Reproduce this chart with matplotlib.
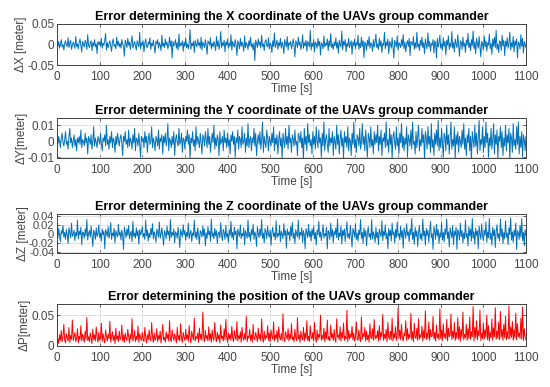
import numpy as np
import matplotlib
matplotlib.use("Agg")
import matplotlib.pyplot as plt

plt.rcParams['font.family'] = ['Liberation Sans', 'DejaVu Sans']

t_max = 1100

# Read-off error values, in the units given by the *_unit factors below (metres per unit)
x_unit = 1.5e-3
y_unit = 1.0e-3
z_unit = 1.3e-3
p_unit = 1.0e-3

dx_vals = [3,-2,5,-6,1,8,-4,0,-9,2,6,-1,-3,11,-5,2,7,-8,-2,4,0,-6,13,-3,1,
-7,4,9,-2,-12,5,1,-4,7,3,-8,16,-1,-5,2,6,-10,3,-2,8,-4,1,-15,5,0,
4,-3,10,-6,2,-1,7,18,-9,3,-5,1,6,-2,-11,4,9,-3,0,-7,12,-1,5,-4,2,
-6,8,1,-3,-19,7,2,-5,10,-1,4,-8,3,14,-6,0,5,-2,-9,6,1,-4,20,-7,3,
-1,6,-12,2,9,-3,-5,4,0,11,-8,2,-2,7,-4,-14,5,1,8,-6,3,-1,-10,15,-3,
2,-5,9,-1,4,-7,0,12,-3,6,-22,5,-2,1,8,-6,3,-9,17,-4,2,-1,6,-11,4,
-3,10,-5,1,-7,3,24,-8,2,-2,5,-13,7,0,-4,9,-1,3,-6,12,-9,4,1,-5,8,
-2,-16,6,3,-1,11,-7,2,-4,5,0,-10,13,-3,6,-8,1,21,-5,3,-2,7,-12,4,-1,
9,-6,2,-3,16,-9,5,0,-4,8,-1,-18,6,2,-7,10,-3,4,-1,-11,14,-5,3,0,-8,
6,-2,12,-4,1,-9,3,-26,7,2,-5,9,-1,4,-6,15,-3,1,-10,5,8,-2,-4,11,-7,
2,0,-13,6,-3,19,-5,1,7,-8,3,-2,10,-6,4,-1,-15,8,2,-4,13,-9,3,0,5,
-7,1,9,-3,-20,6,2,-5,12,-1,4,-8,0,16,-6,3,-2,7,-11,5,1,-4,23,-9,2,
-3,8,-12,4,1,-6,10,-2,5,-17,3,0,-7,14,-4,2,-1,9,-10,6,-3,18,-5,1,-8,
4,-2,11,-6,3,-14,7,0,-4,22,-9,5,-1,8,-12,2,-3,10,-5,1,6,-16,4,-2,9,
-7,3,-1,15,-8,2,-5,12,-3,6,-21,4,1,-9,7,-2,13,-6,3,0,-11,8,-4,2,17,
-5,1,-8,10,-3,6,-13,2,-1,20,-7,4,-2,9,-15,5,1,-6,11,-3,-22,7,2,-4,14,
-9,3,0,-5,8,-2,16,-7,4,-12,1,6,-3,10,-18,5,2,-1,13,-8,3,-6,20,-4,1,
-10,7,-2,12,-5,3,-15,9,0,-7,19,-3,5,-11,2,-1,8,-14,6,3,-22,10,-4,2,15,
-6,1,-9,11,-3,5,-17,7,-1,14,-8,2,-4,21,-6,3,-12,9,1,-5,16,-2,-19,6,4,
-8,12,-3,2,-13,7,-1,18,-5,3,-10,8,-2,22,-7,4,-15,10,1,-6,13,-3,-20,5,2,
-9,14,-4,6,-11,3,-1,17,-7,2,-16,9,-3,12,-5,23,-8,1,-13,6,4,-10,15,-2,7,
-18,5,-3,11,-6,2,20,-9,3,-4,13,-12,6,-1,9,-22,4,2,-7,16,-3,10,-14,5,0,
-5]

dy_vals = [1,-2,3,0,-4,2,5,-1,-3,1,6,-2,0,-5,3,8,-1,2,-4,0,4,-3,1,-6,2,
-1,3,-2,7,-4,1,0,-3,5,-1,2,-8,3,1,-2,4,-5,0,9,-3,2,-1,-4,3,1,
-2,5,-1,-6,2,0,4,-3,10,-2,1,-5,3,-1,6,-4,2,0,-7,3,-2,5,1,-3,2,
4,-1,-9,3,0,6,-2,1,-4,7,-3,2,0,-5,4,-1,8,-6,2,1,-3,5,-2,-10,3,
0,2,-4,6,-1,3,-7,1,5,-2,0,9,-4,2,-1,-6,3,1,-3,7,-5,2,0,4,-8,
3,-1,5,-3,1,11,-6,2,0,-4,3,-2,6,-9,1,4,-1,-3,8,-2,0,5,-7,2,1,
-5,3,0,7,-2,4,-11,2,-1,6,-3,1,-6,9,-2,3,0,-4,5,-1,-8,4,2,-3,6,
1,-4,8,-2,3,-7,0,5,-1,10,-5,2,-3,4,1,-9,6,-2,0,3,-6,7,-1,2,-4,
5,-3,1,-8,4,0,6,-2,3,-10,2,-1,7,-5,3,1,-4,9,-2,0,5,-7,2,-3,11,
-4,1,3,-6,2,-1,8,-3,5,-9,0,4,-2,6,-5,1,12,-7,3,-1,-4,7,2,-6,3,
0,-3,5,-1,9,-6,2,-2,4,-8,1,6,-3,2,-11,5,0,-4,8,-2,3,-5,10,-1,2,
-7,4,1,-3,7,-2,0,-9,5,3,-1,6,-4,2,-12,8,-2,3,-6,11,-1,4,-3,1,-8,
6,-2,3,-5,9,0,-4,7,-1,2,-10,5,-3,12,-6,1,4,-2,-7,8,-3,2,-1,6,-9,
3,0,-5,10,-2,4,-8,1,7,-3,2,-11,6,-1,3,-4,9,-6,2,0,-9,5,-2,12,-4,
1,-7,4,2,-3,8,-5,0,11,-2,3,-6,7,-1,-10,5,2,-4,9,-3,1,-8,6,-2,4,
-1,10,-6,3,-2,7,-9,2,0,5,-4,12,-3,1,-7,8,-2,4,-11,3,6,-1,-5,9,-3,
2,-8,5,-1,11,-4,3,-6,2,-2,9,-10,4,1,-3,7,-5,12,-2,0,-8,6,-4,3,10,
-6,1,-3,8,-1,4,-12,6,2,-5,9,-2,3,-7,11,-4,1,-9,5,-2,7,-3,13,-6,2,
-4,8,-1,-10,5,3,-6,10,-2,4,-8,2,12,-5,1,-3,9,-11,4,-2,6,-7,3,0,-4,
7,-2,11,-5,2,-9,4,-1,8,-6,3,-12,6,1,-4,10,-3,5,-8,2,13,-6,1,-2,9,
-7,3,-4,12,-1,5,-10,2,-3,8,-5,1,11,-8,4,-2,7,-11,3,0,9,-4,6,-9,2,
-3,10,-6,4,-1,8,-12,5,2,-7,11,-3,1,-5,9,-2,12,-8,3,-4,6,-10,4,1,-6,
3]

dz_vals = [4,-7,10,-2,-13,6,1,15,-5,3,-9,8,-1,-16,11,2,-6,19,-4,0,7,-11,3,-3,24,
-8,5,-1,12,-18,4,2,-7,9,-3,25,-10,1,6,-5,14,-2,-21,7,3,-9,11,-4,0,16,
-6,2,-12,9,-1,5,-25,8,3,-4,13,-7,1,20,-9,2,-3,10,-15,6,0,-5,17,-2,4,
-10,7,-1,-26,12,3,-6,9,-2,15,-8,1,5,-13,22,-4,2,-7,11,-3,6,-17,8,-1,3,
13,-5,1,-9,24,-3,7,-12,2,-6,10,-1,18,-8,4,-2,-14,9,3,-5,21,-7,0,11,-4,
-19,6,2,-8,14,-1,5,-11,25,-6,3,-2,9,-15,4,1,-7,12,-3,-23,8,2,-5,16,-1,
6,-10,3,-4,19,-8,1,7,-13,2,-2,24,-6,4,-9,11,-1,-17,6,3,-5,14,-3,9,-20,
2,-7,13,-1,5,-12,26,-4,2,-8,10,-3,6,-16,1,4,-6,20,-2,-11,8,3,-9,15,-5,
1,-14,7,-2,22,-6,3,-10,12,-1,5,-25,9,2,-4,16,-8,1,-3,11,-18,6,0,-7,24,
-5,3,-12,8,-1,17,-9,4,-2,-21,13,1,-6,9,-3,25,-7,2,-15,10,4,-8,14,-1,-5,
7,-19,3,12,-4,2,-10,23,-6,1,-3,15,-13,5,0,-8,18,-2,6,-24,9,-1,4,-11,13,
-3,20,-7,2,-16,8,1,-5,24,-9,3,-2,11,-14,6,-1,-25,10,2,-6,17,-4,5,-12,9,
-2,14,-8,3,-19,7,-1,22,-5,4,-11,2,16,-7,1,-3,12,-25,6,3,-9,19,-4,8,-15,
5,-1,11,-6,26,-10,2,-4,14,-17,7,-2,9,-13,3,21,-6,1,-8,15,-3,-22,10,4,-5,
18,-9,2,-12,7,-1,25,-7,3,-16,11,-4,6,-20,2,13,-5,1,-10,25,-8,4,-2,-14,12,
-6,3,-18,9,1,-4,23,-11,5,-2,16,-8,2,-25,10,-3,7,-12,19,-1,4,-15,8,-6,21,
-3,1,-10,14,-5,6,-24,11,2,-7,18,-2,4,-13,9,-1,27,-9,3,-17,12,-4,6,-21,2,
15,-8,1,-11,26,-3,5,-19,10,-2,7,-14,3,22,-6,1,-26,13,4,-9,17,-3,8,-16,2,
-5,20,-10,3,-13,9,-1,26,-7,4,-22,11,2,-6,15,-18,5,-2,12,-26,8,3,-10,19,-4,
6,-15,2,-8,24,-5,1,-20,13,-3,9,-12,27,-7,4,-17,10,-2,6,-25,14,1,-9,18,-3,
-11,7,-2,21,-14,4,-6,27,-9,2,-19,12,-3,8,-23,5,16,-7,1,-12,26,-4,9,-16,3,
-8,23,-5,2,-18,11,-1,28,-10,4,-14,7,-3,19,-26,6,2,-9,15,-5,27,-11,3,-20,8,
-2]

dp_vals = [6,12,4,18,9,25,7,14,35,10,5,20,13,8,30,6,17,11,42,9,15,22,7,12,28,
5,16,10,33,8,19,13,6,24,11,46,9,15,7,21,12,4,27,10,18,8,31,14,6,22,
9,13,37,7,20,11,5,26,15,8,19,12,40,6,14,23,9,17,4,29,11,16,7,24,10,
13,34,8,18,6,21,12,9,27,15,5,19,11,44,8,14,25,7,16,10,32,6,20,13,9,
22,11,7,30,14,5,18,10,26,12,8,38,15,6,21,9,13,28,7,17,11,24,5,16,35,
10,14,6,23,12,19,8,41,11,7,26,15,9,20,13,5,30,10,17,8,36,12,6,22,14,
9,27,11,18,7,33,13,5,24,16,10,45,8,15,12,21,6,29,11,19,9,55,14,7,25,
12,17,8,31,10,20,6,26,13,9,38,15,7,22,11,18,5,34,12,16,8,28,10,43,14,
6,21,11,19,9,32,13,7,25,15,10,40,8,17,12,23,6,30,14,9,20,11,48,7,16,
13,27,9,18,6,35,12,10,22,15,7,29,11,19,8,44,14,6,24,10,17,13,33,9,21,
7,26,15,11,39,8,18,12,25,6,31,14,10,20,9,52,13,7,23,16,11,28,8,19,12,
36,10,15,7,27,13,9,46,11,18,6,24,14,10,30,8,21,12,41,9,16,7,33,15,11,
22,8,38,13,6,26,10,19,14,50,9,17,11,29,7,23,12,42,10,15,8,34,13,20,9,
27,11,6,44,14,18,10,31,8,22,13,37,9,16,12,58,7,25,11,19,14,32,10,21,8,
15,39,12,9,26,13,7,47,11,20,15,30,8,24,10,18,6,36,14,12,28,9,43,11,17,
13,25,8,33,10,22,15,51,9,19,12,27,7,38,14,11,24,10,45,8,20,13,31,9,17,
62,12,26,10,35,14,8,21,16,41,9,28,11,19,13,53,10,23,7,37,15,12,29,9,44,
11,18,14,32,8,25,13,57,10,21,12,39,9,27,15,16,48,11,22,8,34,13,19,10,60,
12,26,9,36,14,20,11,43,8,29,15,17,52,10,24,13,38,9,22,12,46,11,31,8,27,
14,55,10,19,13,35,9,28,12,47,11,23,15,64,8,30,13,41,10,25,16,58,9,21,12,
37,11,26,14,50,10,33,8,22,13,44,9,29,15,62,11,24,12,39,10,56,14,27,9,35,
13,48,10,23,12,65,11,31,14,40,9,26,13,53,10,36,15,21,12,45,11,63,9,28,14,
10]

titles = ["Error determining the X coordinate of the UAVs group commander",
          "Error determining the Y coordinate of the UAVs group commander",
          "Error determining the Z coordinate of the UAVs group commander",
          "Error determining the position of the UAVs group commander"]
ylabels = ["\u0394X [meter]", "\u0394Y[meter]", "\u0394Z [meter]", "\u0394P[meter]"]
yticks = [[-0.05, 0, 0.05], [-0.01, 0, 0.01],
          [-0.04, -0.02, 0, 0.02, 0.04], [0, 0.05]]
yticklabels = [["-0.05", "0", "0.05"], ["-0.01", "0", "0.01"],
               ["-0.04", "-0.02", "0", "0.02", "0.04"], ["0", "0.05"]]
ylims = [(-0.05, 0.05), (-0.0105, 0.0145), (-0.042, 0.045), (0, 0.068)]
xticks = list(range(0, 1101, 100))
colors = ["#0072BD", "#0072BD", "#0072BD", "#FF0000"]

series = [np.array(dx_vals) * x_unit, np.array(dy_vals) * y_unit,
          np.array(dz_vals) * z_unit, np.array(dp_vals) * p_unit]

fig = plt.figure(figsize=(5.5, 3.87), dpi=100)
rects = [(57, 24, 65), (57, 118, 158), (57, 214, 253), (57, 304, 346)]
W, H = 550, 387
for i, (l, top, bot) in enumerate(rects):
    ax = fig.add_axes([l / W, 1 - bot / H, (526 - l) / W, (bot - top) / H])
    y = series[i]
    t = np.linspace(0, t_max, len(y))
    ax.plot(t, y, color=colors[i], lw=0.7)
    ax.set_xlim(0, t_max)
    ax.set_ylim(*ylims[i])
    ax.set_xticks(xticks)
    ax.set_yticks(yticks[i])
    ax.set_yticklabels(yticklabels[i])
    ax.grid(True, color="#dcdcdc", lw=0.6)
    ax.set_axisbelow(True)
    ax.tick_params(direction="in", length=2.5, width=0.6, labelsize=8.5,
                   colors="#454545", top=True, right=True)
    ax.tick_params(axis="x", pad=4.5)
    ax.tick_params(axis="y", pad=2)
    zl = 8 if i == 2 else 8.5
    ax.tick_params(axis="y", labelsize=zl)
    for s in ax.spines.values():
        s.set_color("#404040")
        s.set_linewidth(0.7)
    ax.set_title(titles[i], fontsize=9, fontweight="bold", pad=3)
    ax.set_xlabel("Time [s]", fontsize=8.5, color="#454545", labelpad=0)
    ax.set_ylabel(ylabels[i], fontsize=8.5, color="#454545", labelpad=0)

fig.savefig("out.png", dpi=100)
